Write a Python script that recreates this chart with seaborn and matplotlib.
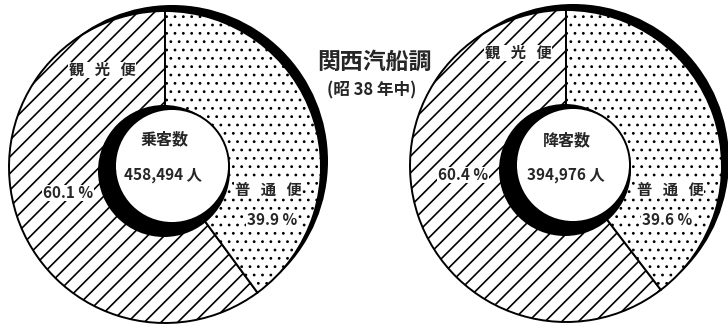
import matplotlib
matplotlib.use("Agg")
import matplotlib.pyplot as plt
from matplotlib.patches import Circle
import seaborn as sns

# ---- data ----
categories = ["観光便", "普通便"]
boarding_pct = [60.1, 39.9]
alighting_pct = [60.4, 39.6]
center_titles = ["乗客数", "降客数"]
totals = [458494, 394976]
title = "関西汽船調"
subtitle = "(昭 38 年中)"

sns.set_theme(style="white")
plt.rcParams["font.family"] = ["Noto Sans CJK JP", "DejaVu Sans"]
plt.rcParams["hatch.linewidth"] = 1.2
plt.rcParams["hatch.color"] = "black"

W, H = 728, 329
fig = plt.figure(figsize=(W / 100, H / 100), dpi=100)
fig.patch.set_facecolor("white")
ax = fig.add_axes([0, 0, 1, 1])

def Y(y):
    return H - y

R = 156
donuts = [
    dict(vals=boarding_pct, c=(165, 167), lab_cat=[(102, 70), (268, 190)],
         lab_pct=[(68, 193), (272, 220)], ctitle=(164, 139), ctotal=(163, 175)),
    dict(vals=alighting_pct, c=(566, 166), lab_cat=[(518, 53), (670, 190)],
         lab_pct=[(463, 175), (667, 220)], ctitle=(567, 140), ctotal=(566, 175)),
]

for i, d in enumerate(donuts):
    cx, cy = d["c"]
    # outer shadow (black crescent, upper right)
    ax.add_patch(Circle((cx + 7, Y(cy) + 6), R, facecolor="black", edgecolor="none", zorder=0))
    wedges, _ = ax.pie(d["vals"], center=(cx, Y(cy)), radius=R, startangle=90, counterclock=True,
                       colors=["white", "white"], hatch=["//", ".."],
                       wedgeprops=dict(edgecolor="black", linewidth=1.4), frame=True)
    try:
        wedges[1].set_hatch_linewidth(0.8)
    except AttributeError:
        pass
    # inner hole with shadow crescent (lower left)
    ax.add_patch(Circle((cx - 1, Y(cy) - 4), 66, facecolor="black", edgecolor="none", zorder=5))
    ax.add_patch(Circle((cx + 7, Y(cy) + 1), 57, facecolor="white", edgecolor="black",
                        linewidth=1.4, zorder=6))
    for j, cat in enumerate(categories):
        x, y = d["lab_cat"][j]
        ax.text(x, Y(y), "   ".join(cat), ha="center", va="center", fontsize=11,
                fontweight="bold", zorder=7,
                bbox=dict(facecolor="white", edgecolor="none", pad=0.3))
        x, y = d["lab_pct"][j]
        ax.text(x, Y(y), f"{d['vals'][j]} %", ha="center", va="center", fontsize=11,
                fontweight="bold", zorder=7,
                bbox=dict(facecolor="white", edgecolor="none", pad=0.3))
    x, y = d["ctitle"]
    ax.text(x, Y(y), center_titles[i], ha="center", va="center", fontsize=11.5,
            fontweight="bold", zorder=7)
    x, y = d["ctotal"]
    ax.text(x, Y(y), f"{totals[i]:,} 人", ha="center", va="center", fontsize=11,
            fontweight="bold", zorder=7)

ax.text(374, Y(62), title, ha="center", va="center", fontsize=16.5, fontweight="bold")
ax.text(372, Y(90), subtitle, ha="center", va="center", fontsize=12, fontweight="bold")

ax.set_xlim(0, W)
ax.set_ylim(0, H)
ax.set_aspect("auto")
ax.axis("off")

fig.savefig("out.png", dpi=100, facecolor="white")
